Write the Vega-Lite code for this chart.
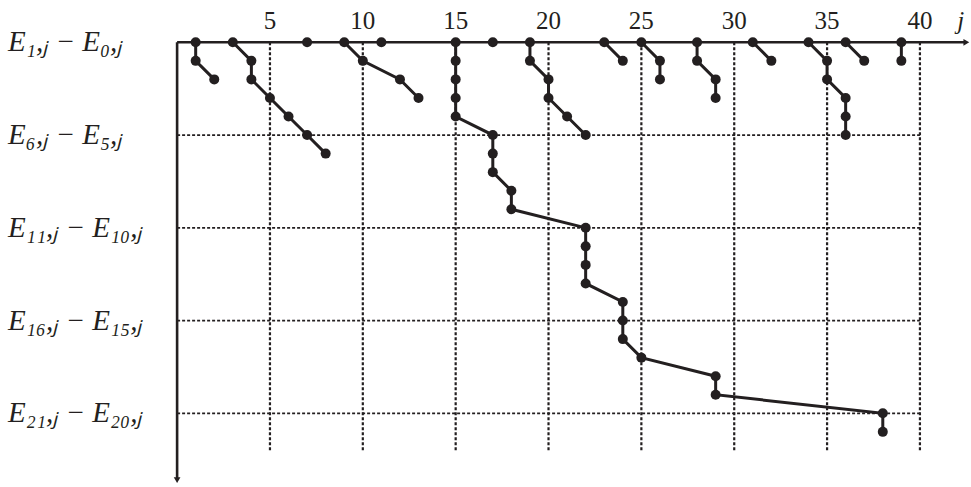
{
  "$schema": "https://vega.github.io/schema/vega-lite/v6.json",
  "width": 971,
  "height": 487,
  "autosize": {"type": "fit", "contains": "padding"},
  "padding": 0,
  "background": "white",
  "config": {"view": {"stroke": null}},
  "datasets": {
    "pts": [
      {"s": "a", "j": 1, "r": 1}, {"s": "a", "j": 1, "r": 2}, {"s": "a", "j": 2, "r": 3},
      {"s": "b", "j": 3, "r": 1}, {"s": "b", "j": 4, "r": 2}, {"s": "b", "j": 4, "r": 3}, {"s": "b", "j": 5, "r": 4}, {"s": "b", "j": 6, "r": 5}, {"s": "b", "j": 7, "r": 6}, {"s": "b", "j": 8, "r": 7},
      {"s": "c", "j": 7, "r": 1},
      {"s": "d", "j": 9, "r": 1}, {"s": "d", "j": 10, "r": 2}, {"s": "d", "j": 12, "r": 3}, {"s": "d", "j": 13, "r": 4},
      {"s": "e", "j": 11, "r": 1},
      {"s": "f", "j": 15, "r": 1}, {"s": "f", "j": 15, "r": 2}, {"s": "f", "j": 15, "r": 3}, {"s": "f", "j": 15, "r": 4}, {"s": "f", "j": 15, "r": 5},
      {"s": "f", "j": 17, "r": 6}, {"s": "f", "j": 17, "r": 7}, {"s": "f", "j": 17, "r": 8}, {"s": "f", "j": 18, "r": 9}, {"s": "f", "j": 18, "r": 10},
      {"s": "f", "j": 22, "r": 11}, {"s": "f", "j": 22, "r": 12}, {"s": "f", "j": 22, "r": 13}, {"s": "f", "j": 22, "r": 14},
      {"s": "f", "j": 24, "r": 15}, {"s": "f", "j": 24, "r": 16}, {"s": "f", "j": 24, "r": 17}, {"s": "f", "j": 25, "r": 18},
      {"s": "f", "j": 29, "r": 19}, {"s": "f", "j": 29, "r": 20}, {"s": "f", "j": 38, "r": 21}, {"s": "f", "j": 38, "r": 22},
      {"s": "g", "j": 17, "r": 1},
      {"s": "h", "j": 19, "r": 1}, {"s": "h", "j": 19, "r": 2}, {"s": "h", "j": 20, "r": 3}, {"s": "h", "j": 20, "r": 4}, {"s": "h", "j": 21, "r": 5}, {"s": "h", "j": 22, "r": 6},
      {"s": "i", "j": 23, "r": 1}, {"s": "i", "j": 24, "r": 2},
      {"s": "k", "j": 25, "r": 1}, {"s": "k", "j": 26, "r": 2}, {"s": "k", "j": 26, "r": 3},
      {"s": "l", "j": 28, "r": 1}, {"s": "l", "j": 28, "r": 2}, {"s": "l", "j": 29, "r": 3}, {"s": "l", "j": 29, "r": 4},
      {"s": "m", "j": 31, "r": 1}, {"s": "m", "j": 32, "r": 2},
      {"s": "n", "j": 34, "r": 1}, {"s": "n", "j": 35, "r": 2}, {"s": "n", "j": 35, "r": 3}, {"s": "n", "j": 36, "r": 4}, {"s": "n", "j": 36, "r": 5}, {"s": "n", "j": 36, "r": 6},
      {"s": "o", "j": 36, "r": 1}, {"s": "o", "j": 37, "r": 2},
      {"s": "p", "j": 39, "r": 1}, {"s": "p", "j": 39, "r": 2}
    ],
    "ticks": [{"j": 5}, {"j": 10}, {"j": 15}, {"j": 20}, {"j": 25}, {"j": 30}, {"j": 35}, {"j": 40}],
    "rows": [
      {"r": 1, "lab": "E₁,ⱼ − E₀,ⱼ"},
      {"r": 6, "lab": "E₆,ⱼ − E₅,ⱼ"},
      {"r": 11, "lab": "E₁₁,ⱼ − E₁₀,ⱼ"},
      {"r": 16, "lab": "E₁₆,ⱼ − E₁₅,ⱼ"},
      {"r": 21, "lab": "E₂₁,ⱼ − E₂₀,ⱼ"}
    ],
    "hgrid": [{"r": 6}, {"r": 11}, {"r": 16}, {"r": 21}]
  },
  "layer": [
    {
      "data": {"name": "ticks"},
      "mark": {"type": "rule", "color": "#231f20", "strokeWidth": 2.2, "strokeDash": [3, 2]},
      "encoding": {
        "x": {"field": "j", "type": "quantitative", "scale": {"domain": [-9.537, 42.75], "nice": false, "zero": false}, "axis": null},
        "y": {"datum": 1, "type": "quantitative", "scale": {"domain": [-1.28, 24.973], "nice": false, "zero": false, "reverse": true}, "axis": null},
        "y2": {"datum": 23.1}
      }
    },
    {
      "data": {"name": "hgrid"},
      "mark": {"type": "rule", "color": "#231f20", "strokeWidth": 1.8, "strokeDash": [3, 2]},
      "encoding": {
        "x": {"datum": 0, "type": "quantitative"},
        "x2": {"datum": 40},
        "y": {"field": "r", "type": "quantitative"}
      }
    },
    {
      "data": {"values": [{}]},
      "mark": {"type": "rule", "color": "#231f20", "strokeWidth": 2.6},
      "encoding": {
        "x": {"datum": 0, "type": "quantitative"},
        "x2": {"datum": 42.4},
        "y": {"datum": 1, "type": "quantitative"}
      }
    },
    {
      "data": {"values": [{}]},
      "mark": {"type": "rule", "color": "#231f20", "strokeWidth": 2.6},
      "encoding": {
        "x": {"datum": 0, "type": "quantitative"},
        "y": {"datum": 1, "type": "quantitative"},
        "y2": {"datum": 24.5}
      }
    },
    {
      "data": {"values": [{}]},
      "mark": {"type": "point", "shape": "triangle-right", "filled": true, "color": "#231f20", "size": 45, "opacity": 1},
      "encoding": {
        "x": {"datum": 42.5, "type": "quantitative"},
        "y": {"datum": 1, "type": "quantitative"}
      }
    },
    {
      "data": {"values": [{}]},
      "mark": {"type": "point", "shape": "triangle-down", "filled": true, "color": "#231f20", "size": 45, "opacity": 1},
      "encoding": {
        "x": {"datum": 0, "type": "quantitative"},
        "y": {"datum": 24.6, "type": "quantitative"}
      }
    },
    {
      "data": {"name": "pts"},
      "mark": {"type": "line", "color": "#231f20", "strokeWidth": 3},
      "encoding": {
        "x": {"field": "j", "type": "quantitative"},
        "y": {"field": "r", "type": "quantitative"},
        "detail": {"field": "s"},
        "order": {"field": "r", "type": "quantitative"}
      }
    },
    {
      "data": {"name": "pts"},
      "mark": {"type": "circle", "color": "#231f20", "size": 100, "opacity": 1},
      "encoding": {
        "x": {"field": "j", "type": "quantitative"},
        "y": {"field": "r", "type": "quantitative"}
      }
    },
    {
      "data": {"name": "ticks"},
      "mark": {"type": "text", "font": "Liberation Serif", "fontSize": 25, "color": "#231f20", "baseline": "middle", "align": "center"},
      "encoding": {
        "x": {"field": "j", "type": "quantitative"},
        "y": {"datum": -0.15, "type": "quantitative"},
        "text": {"field": "j", "type": "quantitative"}
      }
    },
    {
      "data": {"values": [{"t": "j"}]},
      "mark": {"type": "text", "font": "Liberation Serif", "fontStyle": "italic", "fontSize": 25, "color": "#231f20", "baseline": "middle", "align": "center"},
      "encoding": {
        "x": {"datum": 42.2, "type": "quantitative"},
        "y": {"datum": -0.15, "type": "quantitative"},
        "text": {"field": "t"}
      }
    },
    {
      "data": {"name": "rows"},
      "mark": {"type": "text", "font": "Liberation Serif", "fontStyle": "italic", "fontSize": 29, "color": "#231f20", "baseline": "middle", "align": "left"},
      "encoding": {
        "x": {"datum": -9.1, "type": "quantitative"},
        "y": {"field": "r", "type": "quantitative"},
        "text": {"field": "lab"}
      }
    }
  ]
}
